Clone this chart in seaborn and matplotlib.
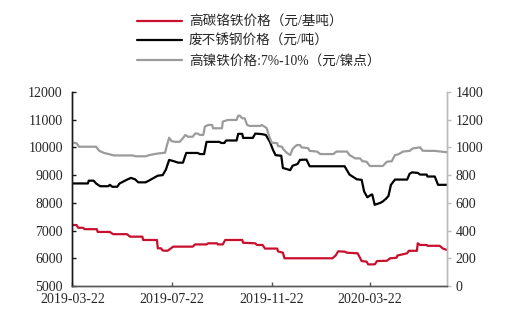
import matplotlib
matplotlib.use("Agg")
import matplotlib.pyplot as plt
import matplotlib.dates as mdates
import seaborn as sns
import pandas as pd

# 高碳铬铁价格（元/基吨）
chrome_dates = [
    "2019-03-22", "2019-03-27", "2019-03-29", "2019-04-04", "2019-04-06", "2019-04-21",
    "2019-04-22", "2019-05-07", "2019-05-11", "2019-05-28", "2019-06-01", "2019-06-16",
    "2019-06-17", "2019-07-04", "2019-07-05", "2019-07-09", "2019-07-11", "2019-07-17",
    "2019-07-24", "2019-08-17", "2019-08-20", "2019-09-03", "2019-09-05", "2019-09-16",
    "2019-09-17", "2019-09-23", "2019-09-26", "2019-10-17", "2019-10-18", "2019-11-02",
    "2019-11-04", "2019-11-11", "2019-11-14", "2019-11-29", "2019-11-30", "2019-12-06",
    "2019-12-08", "2020-02-05", "2020-02-09", "2020-02-12", "2020-02-20", "2020-02-23",
    "2020-03-07", "2020-03-12", "2020-03-18", "2020-03-20", "2020-03-28", "2020-03-31",
    "2020-04-12", "2020-04-16", "2020-04-24", "2020-04-25", "2020-05-07", "2020-05-09",
    "2020-05-19", "2020-05-20", "2020-05-23", "2020-05-31", "2020-06-01", "2020-06-16",
    "2020-06-20", "2020-06-25",
]
chrome_price = [
    7200, 7200, 7100, 7100, 7050, 7050,
    6950, 6950, 6870, 6870, 6780, 6780,
    6660, 6660, 6360, 6360, 6280, 6270,
    6420, 6420, 6500, 6500, 6540, 6540,
    6500, 6500, 6660, 6660, 6560, 6540,
    6480, 6480, 6350, 6350, 6250, 6200,
    6000, 6000, 6100, 6250, 6240, 6200,
    6180, 5900, 5880, 5780, 5780, 5900,
    5910, 6000, 6020, 6100, 6180, 6270,
    6270, 6540, 6480, 6480, 6450, 6450,
    6350, 6300,
]

# 废不锈钢价格（元/吨）
scrap_dates = [
    "2019-03-22", "2019-04-10", "2019-04-11", "2019-04-17", "2019-04-20", "2019-04-25",
    "2019-05-05", "2019-05-07", "2019-05-10", "2019-05-16", "2019-05-19", "2019-05-29",
    "2019-06-02", "2019-06-07", "2019-06-11", "2019-06-20", "2019-06-24", "2019-06-30",
    "2019-07-05", "2019-07-11", "2019-07-15", "2019-07-19", "2019-07-25", "2019-07-30",
    "2019-08-05", "2019-08-09", "2019-08-23", "2019-08-26", "2019-08-31", "2019-09-03",
    "2019-09-19", "2019-09-21", "2019-09-25", "2019-09-27", "2019-10-10", "2019-10-12",
    "2019-10-17", "2019-10-18", "2019-10-30", "2019-11-02", "2019-11-10", "2019-11-15",
    "2019-11-20", "2019-11-24", "2019-11-27", "2019-12-04", "2019-12-06", "2019-12-15",
    "2019-12-18", "2019-12-24", "2019-12-27", "2020-01-04", "2020-01-08", "2020-02-20",
    "2020-02-26", "2020-03-06", "2020-03-12", "2020-03-15", "2020-03-19", "2020-03-24",
    "2020-03-25", "2020-03-28", "2020-04-04", "2020-04-07", "2020-04-11", "2020-04-14",
    "2020-04-17", "2020-04-22", "2020-05-07", "2020-05-10", "2020-05-13", "2020-05-20",
    "2020-05-23", "2020-05-31", "2020-06-01", "2020-06-10", "2020-06-14", "2020-06-25",
]
scrap_price = [
    8700, 8700, 8800, 8800, 8700, 8600,
    8600, 8650, 8580, 8580, 8700, 8850,
    8900, 8850, 8740, 8740, 8800, 8900,
    8980, 9000, 9200, 9550, 9500, 9450,
    9450, 9800, 9800, 9760, 9760, 10200,
    10200, 10160, 10160, 10250, 10250, 10490,
    10490, 10343, 10343, 10500, 10480, 10450,
    10200, 9900, 9720, 9700, 9260, 9180,
    9340, 9400, 9550, 9560, 9320, 9320,
    9020, 8850, 8830, 8410, 8200, 8300,
    8300, 7930, 8000, 8050, 8150, 8250,
    8650, 8840, 8840, 9050, 9100, 9080,
    9020, 9020, 8950, 8950, 8650, 8650,
]

# 高镍铁价格:7%-10%（元/镍点）
nickel_dates = [
    "2019-03-22", "2019-03-27", "2019-03-30", "2019-04-20", "2019-04-24", "2019-04-30",
    "2019-05-07", "2019-05-12", "2019-06-04", "2019-06-08", "2019-06-20", "2019-06-25",
    "2019-07-04", "2019-07-14", "2019-07-16", "2019-07-19", "2019-07-22", "2019-07-27",
    "2019-08-01", "2019-08-04", "2019-08-08", "2019-08-11", "2019-08-17", "2019-08-20",
    "2019-08-23", "2019-08-26", "2019-08-30", "2019-09-01", "2019-09-05", "2019-09-10",
    "2019-09-11", "2019-09-22", "2019-09-23", "2019-09-29", "2019-10-10", "2019-10-12",
    "2019-10-14", "2019-10-17", "2019-10-20", "2019-10-23", "2019-10-26", "2019-11-08",
    "2019-11-10", "2019-11-16", "2019-11-18", "2019-11-22", "2019-11-29", "2019-11-30",
    "2019-12-05", "2019-12-06", "2019-12-11", "2019-12-15", "2019-12-18", "2019-12-23",
    "2019-12-27", "2019-12-29", "2020-01-06", "2020-01-08", "2020-01-17", "2020-01-21",
    "2020-02-06", "2020-02-10", "2020-02-23", "2020-02-26", "2020-03-04", "2020-03-10",
    "2020-03-13", "2020-03-18", "2020-03-22", "2020-04-07", "2020-04-12", "2020-04-18",
    "2020-04-22", "2020-04-26", "2020-05-02", "2020-05-10", "2020-05-14", "2020-05-23",
    "2020-05-26", "2020-06-04", "2020-06-10", "2020-06-25",
]
nickel_price = [
    1035, 1030, 1005, 1005, 975, 960,
    950, 942, 942, 936, 936, 945,
    955, 962, 1010, 1070, 1045, 1040,
    1041, 1060, 1090, 1077, 1077, 1100,
    1100, 1090, 1090, 1150, 1162, 1162,
    1138, 1138, 1186, 1198, 1198, 1229,
    1229, 1210, 1210, 1162, 1155, 1155,
    1162, 1140, 1100, 1035, 1030, 1010,
    1005, 990, 960, 945, 990, 1017,
    1017, 1000, 995, 975, 970, 952,
    952, 970, 970, 945, 921, 921,
    900, 897, 866, 866, 897, 900,
    945, 950, 970, 975, 993, 1000,
    976, 975, 975, 965,
]

tick_dates = ["2019-03-22", "2019-07-22", "2019-11-22", "2020-03-22"]

labels = ["高碳铬铁价格（元/基吨）", "废不锈钢价格（元/吨）", "高镍铁价格:7%-10%（元/镍点）"]
colors = ["#C8102E", "#000000", "#9B9B9B"]

chrome = pd.DataFrame({"date": pd.to_datetime(chrome_dates), "price": chrome_price})
scrap = pd.DataFrame({"date": pd.to_datetime(scrap_dates), "price": scrap_price})
nickel = pd.DataFrame({"date": pd.to_datetime(nickel_dates), "price": nickel_price})

sns.set_style("white")
plt.rcParams["font.family"] = ["Liberation Serif", "Noto Sans CJK SC"]

fig = plt.figure(figsize=(5.13, 3.27), dpi=100)
ax = fig.add_axes([0.1413, 0.1254, 0.7300, 0.5933])
ax2 = ax.twinx()

sns.lineplot(data=chrome, x="date", y="price", ax=ax, color=colors[0], linewidth=1.6, label=labels[0], legend=False)
sns.lineplot(data=scrap, x="date", y="price", ax=ax, color=colors[1], linewidth=1.6, label=labels[1], legend=False)
sns.lineplot(data=nickel, x="date", y="price", ax=ax2, color=colors[2], linewidth=1.6, label=labels[2], legend=False)

ax.set_xlim(pd.Timestamp("2019-03-22"), pd.Timestamp("2020-06-25"))
ax.set_ylim(5000, 12000)
ax2.set_ylim(0, 1400)
ax.set_yticks(range(5000, 12001, 1000))
ax2.set_yticks(range(0, 1401, 200))
ax.set_xticks(pd.to_datetime(tick_dates))
ax.xaxis.set_major_formatter(mdates.DateFormatter("%Y-%m-%d"))
ax.set_xlabel("")
ax.set_ylabel("")
ax2.set_ylabel("")

for a in (ax, ax2):
    a.grid(False)
    a.spines["top"].set_visible(False)
    a.spines["left"].set_color("#1a1a1a")
    a.spines["right"].set_color("#BBBBBB")
    a.spines["bottom"].set_color("#555555")
    for s in ("left", "right", "bottom"):
        a.spines[s].set_linewidth(1.0)

ax.tick_params(axis="y", direction="in", length=3, width=1, color="#1a1a1a",
               labelsize=10, pad=7, left=True)
ax.tick_params(axis="x", direction="in", length=3, width=1, color="#555555",
               labelsize=10, pad=5, bottom=True)
ax2.tick_params(axis="y", direction="out", length=3, width=1, color="#BBBBBB",
                labelsize=10, pad=3, right=True)

handles = ax.get_lines()[:2] + ax2.get_lines()[:1]
fig.legend(handles, labels, loc="upper left", bbox_to_anchor=(0.249, 0.982),
           frameon=False, handlelength=3.3, handletextpad=0.5, labelspacing=0.48,
           prop={"family": ["Liberation Serif", "Noto Sans CJK SC"], "size": 9.8},
           borderaxespad=0.3)

fig.savefig("out.png", dpi=100)
